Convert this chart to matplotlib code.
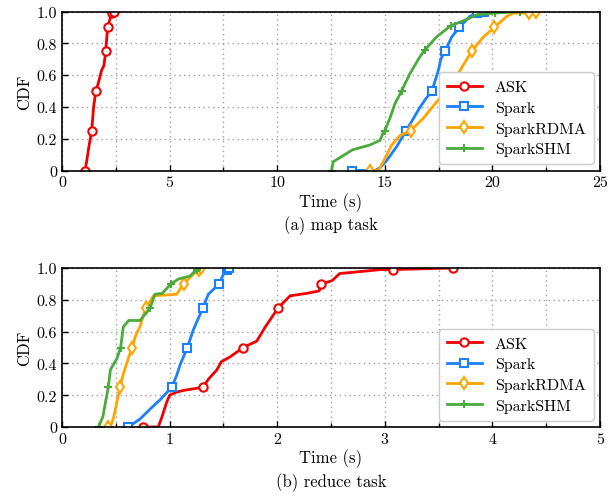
import matplotlib
matplotlib.use("Agg")
import matplotlib.pyplot as plt

plt.rcParams['font.family'] = ['cmr10', 'DejaVu Serif']
plt.rcParams['mathtext.fontset'] = 'cm'
plt.rcParams['axes.unicode_minus'] = False
plt.rcParams['axes.formatter.use_mathtext'] = True

series_names = ["ASK", "Spark", "SparkRDMA", "SparkSHM"]
colors = ["#f00000", "#1a80ff", "#ffa500", "#4aaa3c"]
markers = ["o", "s", "d", "+"]

# ---- map task CDF curves ----
map_ask_x = [1.07, 1.15, 1.25, 1.38, 1.47, 1.57, 1.69, 1.84, 1.95, 2.03, 2.12, 2.31, 2.40]
map_ask_y = [0.0, 0.06, 0.15, 0.25, 0.40, 0.50, 0.55, 0.63, 0.66, 0.75, 0.90, 0.99, 1.0]
map_ask_m = [0, 3, 5, 9, 10, 11, 12]

map_spark_x = [13.46, 14.0, 14.55, 14.8, 15.1, 15.55, 15.99, 16.3, 16.6, 16.9, 17.19,
               17.49, 17.6, 17.8, 18.11, 18.46, 18.96, 19.3, 19.6]
map_spark_y = [0, 0, 0, 0.02, 0.065, 0.15, 0.25, 0.32, 0.39, 0.45, 0.5,
               0.63, 0.70, 0.75, 0.84, 0.9, 0.97, 0.99, 1.0]
map_spark_m = [0, 6, 10, 13, 15, 17, 18]

map_rdma_x = [14.3, 14.7, 14.93, 15.32, 15.7, 16.2, 16.8, 17.4, 17.88, 18.5, 19.04,
              19.58, 20.09, 20.67, 20.97, 21.7, 22.03]
map_rdma_y = [0, 0, 0.055, 0.16, 0.22, 0.25, 0.33, 0.43, 0.5, 0.63, 0.75,
              0.84, 0.9, 0.97, 0.99, 0.99, 1.0]
map_rdma_m = [0, 5, 8, 10, 12, 15, 16]

map_shm_x = [12.53, 12.6, 12.9, 13.5, 14.3, 14.78, 14.93, 15.0, 15.24, 15.47, 15.78,
             16.17, 16.63, 16.87, 17.4, 18.06, 18.8, 19.27, 20.1, 21.3]
map_shm_y = [0, 0.055, 0.08, 0.13, 0.16, 0.19, 0.24, 0.25, 0.33, 0.42, 0.5,
             0.61, 0.715, 0.76, 0.84, 0.91, 0.95, 0.98, 0.99, 1.0]
map_shm_m = [0, 7, 10, 13, 15, 18, 19]

# ---- reduce task CDF curves ----
red_ask_x = [0.75, 0.895, 0.93, 0.97, 1.0, 1.066, 1.13, 1.31, 1.36, 1.44, 1.48, 1.56,
             1.685, 1.81, 1.89, 1.93, 2.01, 2.12, 2.27, 2.39, 2.41, 2.51, 2.58, 2.96,
             3.08, 3.63]
red_ask_y = [0, 0.0, 0.065, 0.15, 0.2, 0.22, 0.23, 0.25, 0.30, 0.36, 0.41, 0.44,
             0.5, 0.54, 0.63, 0.67, 0.75, 0.825, 0.84, 0.856, 0.9, 0.92, 0.965, 0.99,
             0.99, 1.0]
red_ask_m = [0, 7, 12, 16, 20, 24, 25]

red_spark_x = [0.617, 0.66, 0.725, 0.83, 0.91, 1.02, 1.066, 1.097, 1.165, 1.22, 1.31,
               1.36, 1.46, 1.5, 1.53, 1.55]
red_spark_y = [0, 0.02, 0.05, 0.12, 0.17, 0.25, 0.325, 0.39, 0.5, 0.61, 0.75,
               0.835, 0.9, 0.96, 0.99, 1.0]
red_spark_m = [0, 5, 8, 10, 12, 14, 15]

red_rdma_x = [0.43, 0.46, 0.48, 0.54, 0.57, 0.65, 0.69, 0.725, 0.755, 0.78, 0.85,
              1.066, 1.13, 1.19, 1.25, 1.27, 1.29]
red_rdma_y = [0, 0.02, 0.06, 0.25, 0.335, 0.5, 0.585, 0.63, 0.70, 0.75, 0.825,
              0.835, 0.9, 0.94, 0.98, 0.99, 1.0]
red_rdma_m = [0, 3, 5, 9, 12, 15, 16]

red_shm_x = [0.34, 0.38, 0.43, 0.45, 0.51, 0.545, 0.57, 0.62, 0.725, 0.82, 0.864,
             0.93, 1.013, 1.08, 1.19, 1.25, 1.27]
red_shm_y = [0, 0.065, 0.25, 0.36, 0.43, 0.5, 0.63, 0.67, 0.67, 0.75, 0.835,
             0.84, 0.9, 0.93, 0.95, 0.99, 1.0]
red_shm_m = [0, 2, 5, 9, 12, 15, 16]

map_series = [(map_ask_x, map_ask_y, map_ask_m), (map_spark_x, map_spark_y, map_spark_m),
              (map_rdma_x, map_rdma_y, map_rdma_m), (map_shm_x, map_shm_y, map_shm_m)]
red_series = [(red_ask_x, red_ask_y, red_ask_m), (red_spark_x, red_spark_y, red_spark_m),
              (red_rdma_x, red_rdma_y, red_rdma_m), (red_shm_x, red_shm_y, red_shm_m)]

y_ticks = [0, 0.2, 0.4, 0.6, 0.8, 1.0]
y_tick_labels = ["0", "0.2", "0.4", "0.6", "0.8", "1.0"]
map_x_ticks = [0, 5, 10, 15, 20, 25]
red_x_ticks = [0, 1, 2, 3, 4, 5]

W, H = 610, 502
fig = plt.figure(figsize=(W / 100, H / 100), dpi=100)

def px_axes(l, t, r, b):
    return fig.add_axes([l / W, 1 - b / H, (r - l) / W, (b - t) / H])

ax1 = px_axes(62, 12.5, 600, 171.5)
ax2 = px_axes(62, 269, 600, 428)

def draw(ax, series, xmax, xticks, minor_step, caption):
    for (xs, ys, mk), name, c, m in zip(series, series_names, colors, markers):
        ax.plot(xs, ys, color=c, lw=2, marker=m, markevery=mk, ms=6,
                mfc="white" if m != "+" else c, mec=c, mew=1.5, label=name)
    ax.set_xlim(0, xmax)
    ax.set_ylim(0, 1)
    ax.set_xticks(xticks)
    ax.set_xticklabels([str(t) for t in xticks])
    ax.set_xticks([t + minor_step for t in xticks[:-1]], minor=True)
    ax.set_yticks(y_ticks)
    ax.set_yticklabels(y_tick_labels)
    ax.grid(True, which="both", linestyle=(0, (1, 2.5)), color="#a0a0a0", lw=1)
    ax.tick_params(which="both", direction="in", labelsize=11.5, length=4, width=1)
    ax.tick_params(which="minor", length=3)
    for s in ax.spines.values():
        s.set_linewidth(1.2)
    ax.set_ylabel("CDF", fontsize=12, labelpad=3)
    ax.set_xlabel("Time (s)\n" + caption, fontsize=12, linespacing=1.35, labelpad=2)
    leg = ax.legend(loc="lower right", fontsize=11.5, handlelength=2.2,
                    fancybox=True, framealpha=1, edgecolor="#cccccc",
                    borderpad=0.5, labelspacing=0.4, borderaxespad=0.4)
    leg.get_frame().set_linewidth(1)

draw(ax1, map_series, 25, map_x_ticks, 2.5, "(a) map task")
draw(ax2, red_series, 5, red_x_ticks, 0.5, "(b) reduce task")

fig.savefig("out.png", dpi=100)
